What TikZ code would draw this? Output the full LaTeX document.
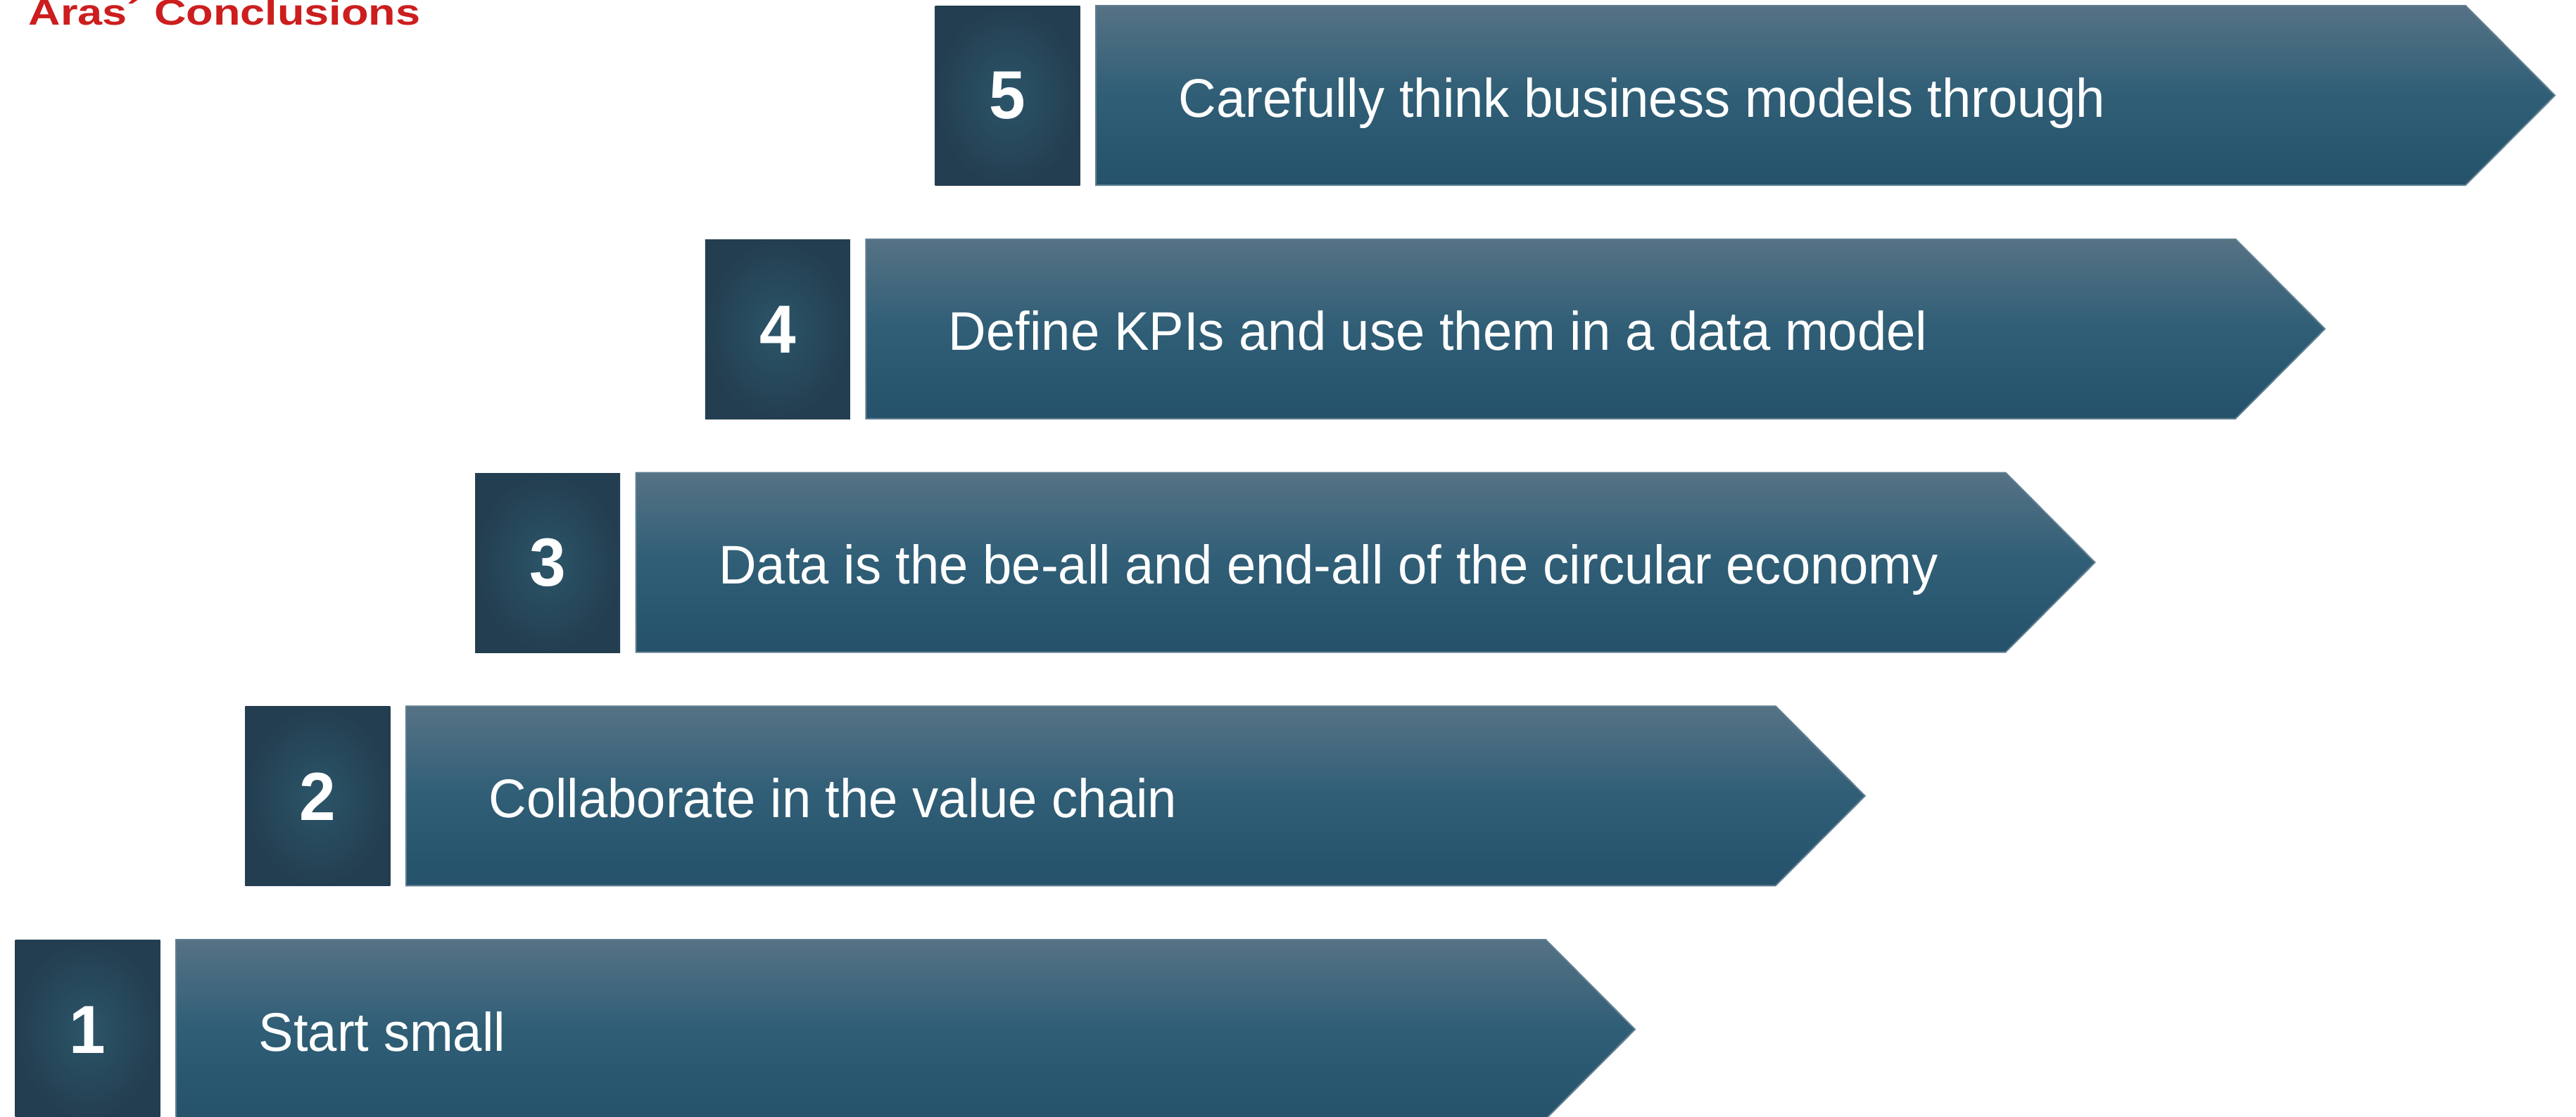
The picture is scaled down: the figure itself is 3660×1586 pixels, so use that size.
\documentclass[tikz,border=0pt]{standalone}
\usepackage{fontspec}
\setmainfont{Liberation Sans}[FakeStretch=0.96]
\newfontfamily\titlefont{Liberation Sans}[FakeStretch=1.22]

\definecolor{arrowtop}{RGB}{86,114,133}
\definecolor{arrowmid}{RGB}{47,94,118}
\definecolor{arrowbot}{RGB}{37,82,106}
\definecolor{arrowedge}{RGB}{96,126,145}
\definecolor{boxin}{RGB}{44,85,105}
\definecolor{boxout}{RGB}{35,62,80}
\definecolor{titlered}{RGB}{204,30,30}

\tikzset{
  numbox/.style={rectangle, anchor=north west, inner sep=0pt,
    minimum width=20.6mm, minimum height=25.5mm,
    inner color=boxin, outer color=boxout, text=white,
    font=\fontsize{27.5}{30}\selectfont\bfseries},
  chevron/.style={top color=arrowtop, bottom color=arrowbot, middle color=arrowmid,
    draw=arrowedge, line width=0.2mm},
  steptext/.style={anchor=base west, inner sep=0pt, text=white,
    font=\fontsize{22}{26}\selectfont},
}

\begin{document}
\begin{tikzpicture}[x=0.1mm, y=-0.1mm]
    \useasboundingbox (0,0) rectangle (3660,1586);

    \node[anchor=base west, inner sep=0pt, text=titlered, font=\titlefont\fontsize{14.7}{17}\selectfont\bfseries] (title) at (40,35) {Aras´ Conclusions};

    % one step per row, shifted right and up
    \foreach \n/\txt in {1/Start small,
                         2/Collaborate in the value chain,
                         3/Data is the be-all and end-all of the circular economy,
                         4/Define KPIs and use them in a data model,
                         5/Carefully think business models through} {
        \pgfmathsetmacro{\xa}{21+326.75*(\n-1)}
        \pgfmathsetmacro{\ya}{1335-331.75*(\n-1)}
        \node[numbox] (num\n) at (\xa,\ya) {\n};
        \shade[chevron] (\xa+229,\ya) -- (\xa+2175,\ya) -- (\xa+2302,\ya+127.5)
            -- (\xa+2175,\ya+255) -- (\xa+229,\ya+255) -- cycle;
        \node[steptext] (txt\n) at (\xa+346,\ya+158) {\txt};
    }
\end{tikzpicture}
\end{document}
